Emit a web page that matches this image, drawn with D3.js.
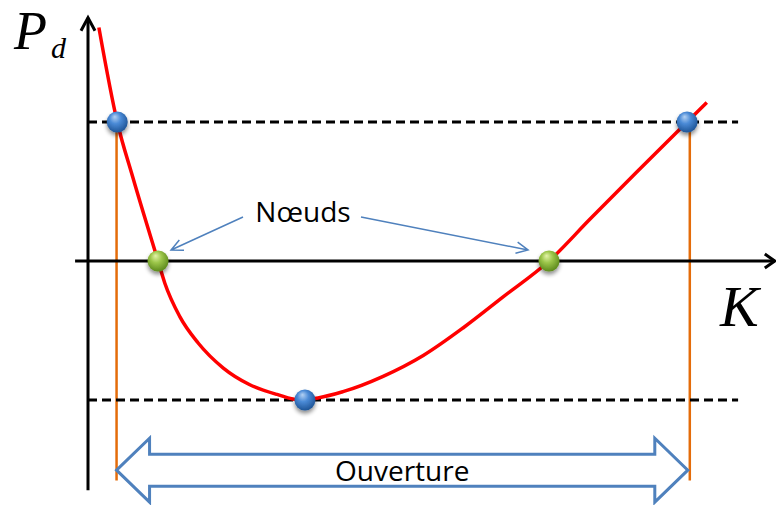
<!DOCTYPE html>
<html>
<head>
<meta charset="utf-8">
<script src="https://cdn.jsdelivr.net/npm/d3@7"></script>
<style>
  body { margin: 0; background: #fff; }
  svg { display: block; }
</style>
</head>
<body>
<div id="chart"></div>
<script>
// curve P_d(K), values (K in 0..10, P_d scaled so the levels are +-1)
var curveK  = [0.16, 0.43, 0.66, 1.03, 1.13, 1.35, 1.62, 1.99, 2.38, 2.78, 3.12, 3.75, 4.34, 4.93, 5.52, 6.10, 6.78, 7.38, 8.07, 8.81, 9.10];
var curvePd = [1.68, 1.00, 0.60, 0.00, -0.16, -0.40, -0.59, -0.77, -0.89, -0.96, -1.00, -0.94, -0.83, -0.68, -0.48, -0.26, 0.00, 0.30, 0.64, 1.00, 1.14];

// points where the curve meets the levels (blue) and the K axis (green, the "Nœuds")
var extremaK  = [0.43, 3.19, 8.81];
var extremaPd = [1, -1, 1];
var nodesK    = [1.03, 6.78];

var levels = [1, -1];
var openK = [0.42, 8.85];   // ends of the "Ouverture"

var axisKRange  = [-0.19, 10.1];
var axisPdRange = [-1.65, 1.75];
var levelKEnd = 9.56;
var openPdEnd = -1.58;
var openPdMid = -1.505;

var width = 776, height = 505;

var svg = d3.select('#chart').append('svg')
  .attr('width', width)
  .attr('height', height);

var xScale = d3.scaleLinear().domain([0, 10]).range([88, 768]);
var yScale = d3.scaleLinear().domain([-1, 1]).range([400, 122]);

var defs = svg.append('defs');

function ball(id, c0, c1, c2) {
  var g = defs.append('radialGradient').attr('id', id)
    .attr('cx', '45%').attr('cy', '40%').attr('r', '60%')
    .attr('fx', '38%').attr('fy', '25%');
  g.append('stop').attr('offset', '0%').attr('stop-color', c0);
  g.append('stop').attr('offset', '45%').attr('stop-color', c1);
  g.append('stop').attr('offset', '100%').attr('stop-color', c2);
}
ball('blueBall', '#b3d1f3', '#4a8ad6', '#1f5597');
ball('greenBall', '#e3f3a8', '#9cc64a', '#5d8a1c');

var shadow = defs.append('filter').attr('id', 'shadow')
  .attr('x', '-50%').attr('y', '-50%').attr('width', '200%').attr('height', '200%');
shadow.append('feGaussianBlur').attr('in', 'SourceAlpha').attr('stdDeviation', 2);
shadow.append('feOffset').attr('dy', 3).attr('result', 'off');
shadow.append('feComponentTransfer').append('feFuncA').attr('type', 'linear').attr('slope', 0.45);
var merge = shadow.append('feMerge');
merge.append('feMergeNode');
merge.append('feMergeNode').attr('in', 'SourceGraphic');

var lineFn = d3.line()
  .x(function(d) { return xScale(d[0]); })
  .y(function(d) { return yScale(d[1]); });

// orange verticals marking the opening
svg.selectAll('.open-line')
  .data(openK)
  .enter()
  .append('line')
  .attr('class', 'open-line')
  .attr('x1', function(d) { return xScale(d); })
  .attr('x2', function(d) { return xScale(d); })
  .attr('y1', yScale(1))
  .attr('y2', yScale(openPdEnd))
  .attr('stroke', '#e46c0a')
  .attr('stroke-width', 2.5);

// dashed levels
svg.selectAll('.level')
  .data(levels)
  .enter()
  .append('line')
  .attr('class', 'level')
  .attr('x1', xScale(0))
  .attr('x2', xScale(levelKEnd))
  .attr('y1', function(d) { return yScale(d); })
  .attr('y2', function(d) { return yScale(d); })
  .attr('stroke', '#000')
  .attr('stroke-width', 3.2)
  .attr('stroke-dasharray', '9,5');

// axes with open arrow heads
var x0 = xScale(0), y0 = yScale(0);
var yTop = yScale(axisPdRange[1]), xRight = xScale(axisKRange[1]);
svg.append('path')
  .attr('d', lineFn([[0, axisPdRange[0]], [0, axisPdRange[1]]]))
  .attr('stroke', '#000').attr('stroke-width', 3).attr('fill', 'none');
svg.append('path')
  .attr('d', `M${x0 - 7},${yTop + 13}L${x0},${yTop}L${x0 + 7},${yTop + 13}`)
  .attr('stroke', '#000').attr('stroke-width', 3).attr('fill', 'none');
svg.append('path')
  .attr('d', lineFn([[axisKRange[0], 0], [axisKRange[1], 0]]))
  .attr('stroke', '#000').attr('stroke-width', 3).attr('fill', 'none');
svg.append('path')
  .attr('d', `M${xRight - 10},${y0 - 7}L${xRight},${y0}L${xRight - 10},${y0 + 7}`)
  .attr('stroke', '#000').attr('stroke-width', 3).attr('fill', 'none');

// the curve
var curveData = curveK.map(function(k, i) { return [k, curvePd[i]]; });
var curveFn = d3.line()
  .x(function(d) { return xScale(d[0]); })
  .y(function(d) { return yScale(d[1]); })
  .curve(d3.curveMonotoneX);
svg.append('path')
  .datum(curveData)
  .attr('d', curveFn)
  .attr('fill', 'none')
  .attr('stroke', '#ff0000')
  .attr('stroke-width', 3.5);

// balls
svg.selectAll('.node')
  .data(nodesK)
  .enter()
  .append('circle')
  .attr('class', 'node')
  .attr('cx', function(d) { return xScale(d); })
  .attr('cy', yScale(0))
  .attr('r', 10.5)
  .attr('fill', 'url(#greenBall)')
  .attr('filter', 'url(#shadow)');

svg.selectAll('.extremum')
  .data(extremaK)
  .enter()
  .append('circle')
  .attr('class', 'extremum')
  .attr('cx', function(d) { return xScale(d); })
  .attr('cy', function(d, i) { return yScale(extremaPd[i]); })
  .attr('r', 10.5)
  .attr('fill', 'url(#blueBall)')
  .attr('filter', 'url(#shadow)');

// "Nœuds" label with its two pointers
var blue = '#4f81bd';
var labelX = 303, labelY = 222;
svg.append('text')
  .attr('x', labelX).attr('y', labelY)
  .attr('text-anchor', 'middle')
  .attr('font-family', 'Open Sans, sans-serif')
  .attr('font-size', 28)
  .text('Nœuds');

var pointers = [
  {from: [243, 217], to: [xScale(nodesK[0]) + 13, yScale(0) - 11]},
  {from: [361, 217], to: [xScale(nodesK[1]) - 21, yScale(0) - 11]}
];
pointers.forEach(function(p) {
  var dx = p.to[0] - p.from[0], dy = p.to[1] - p.from[1];
  var a = Math.atan2(dy, dx), len = 13, spread = 0.45;
  var w1 = [p.to[0] - len * Math.cos(a - spread), p.to[1] - len * Math.sin(a - spread)];
  var w2 = [p.to[0] - len * Math.cos(a + spread), p.to[1] - len * Math.sin(a + spread)];
  svg.append('path')
    .attr('d', `M${p.from[0]},${p.from[1]}L${p.to[0]},${p.to[1]}M${w1[0]},${w1[1]}L${p.to[0]},${p.to[1]}L${w2[0]},${w2[1]}`)
    .attr('fill', 'none')
    .attr('stroke', blue)
    .attr('stroke-width', 1.5);
});

// "Ouverture" block double arrow
var xl = xScale(openK[0]), xr = xScale(openK[1]) - 2;
var ym = yScale(openPdMid);
var head = 33, headH = 32, shaftH = 16;
var arrowPts = [
  [xl, ym], [xl + head, ym - headH], [xl + head, ym - shaftH],
  [xr - head, ym - shaftH], [xr - head, ym - headH], [xr, ym],
  [xr - head, ym + headH], [xr - head, ym + shaftH],
  [xl + head, ym + shaftH], [xl + head, ym + headH]
];
svg.append('path')
  .attr('d', d3.line()(arrowPts) + 'Z')
  .attr('fill', '#fff')
  .attr('stroke', blue)
  .attr('stroke-width', 3)
  .attr('stroke-linejoin', 'miter');

svg.append('text')
  .attr('x', (xl + xr) / 2).attr('y', ym + 11)
  .attr('text-anchor', 'middle')
  .attr('font-family', 'Open Sans, sans-serif')
  .attr('font-size', 28)
  .text('Ouverture');

// axis titles
var pd = svg.append('text')
  .attr('x', 14).attr('y', 49)
  .attr('font-family', 'Liberation Serif, serif')
  .attr('font-style', 'italic')
  .attr('font-size', 54);
pd.append('tspan').text('P');
pd.append('tspan').attr('font-size', 30).attr('dx', 4).attr('dy', 9).text('d');

svg.append('text')
  .attr('x', 720).attr('y', 326)
  .attr('font-family', 'Liberation Serif, serif')
  .attr('font-style', 'italic')
  .attr('font-size', 58)
  .text('K');
</script>
</body>
</html>
